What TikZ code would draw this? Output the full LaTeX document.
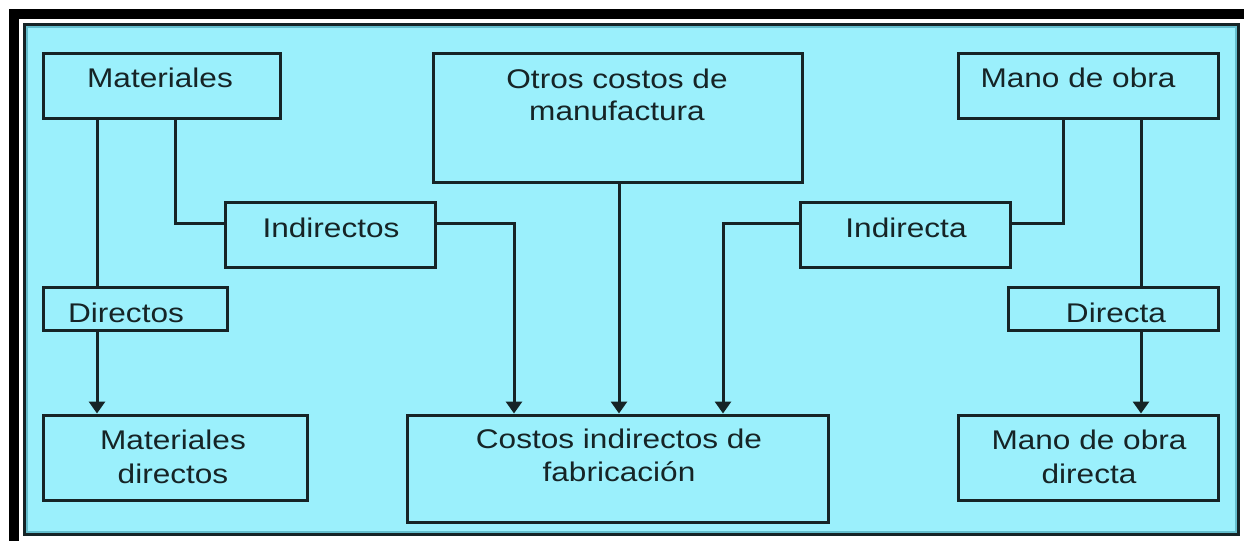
\documentclass[tikz,border=0pt]{standalone}
\usepackage{fontspec}
\setmainfont{Liberation Sans}[FakeStretch=1.17]
\usetikzlibrary{arrows.meta}
\definecolor{bgcyan}{RGB}{155,240,252}
\definecolor{edgecyan}{RGB}{100,190,205}
\definecolor{ink}{RGB}{22,36,38}
\begin{document}
\begin{tikzpicture}[x=1pt,y=-1pt,
  box/.style={draw=ink,line width=3pt,rectangle,inner sep=0pt},
  lbl/.style={text=ink,inner sep=0pt,anchor=base,align=center,font=\fontsize{27}{34}\selectfont},
  conn/.style={draw=ink,line width=3pt},
  arr/.style={conn,-{Triangle[width=16pt,length=12pt]}}]
\useasboundingbox (0,0) rectangle (1244,541);
% frame
\fill[white] (0,0) rectangle (1244,541);
\fill[black] (9,9) rectangle (1244,19);
\fill[black] (9,9) rectangle (19,541);
\draw[ink,line width=3pt,fill=bgcyan] (24.5,24.5) rectangle (1238.5,534.5);
\draw[edgecyan,line width=2pt] (27,27) rectangle (1236,532);
% boxes
\node[box,minimum width=237pt,minimum height=65pt] (mat) at (161.5,85.5) {};
\node[box,minimum width=210pt,minimum height=65pt] (ind1) at (330,234.5) {};
\node[box,minimum width=184pt,minimum height=43pt] (dir1) at (135,308.5) {};
\node[box,minimum width=264pt,minimum height=85pt] (matd) at (175,457.5) {};
\node[box,minimum width=369pt,minimum height=129pt] (otros) at (617.5,117.5) {};
\node[box,minimum width=421pt,minimum height=107pt] (cif) at (617.5,468.5) {};
\node[box,minimum width=210pt,minimum height=65pt] (ind2) at (905,234.5) {};
\node[box,minimum width=260pt,minimum height=65pt] (mano) at (1088,85.5) {};
\node[box,minimum width=210pt,minimum height=43pt] (dir2) at (1113,308.5) {};
\node[box,minimum width=260pt,minimum height=85pt] (manod) at (1088,457.5) {};
% labels (base anchor = baseline of the last line)
\node[lbl] (tmat) at (160,87) {Materiales};
\node[lbl] (tind1) at (331,237) {Indirectos};
\node[lbl] (tdir1) at (126,322) {Directos};
\node[lbl] (tmatd) at (173,483) {Materiales\\directos};
\node[lbl,font=\fontsize{27}{32}\selectfont] (totros) at (617,120) {Otros costos de\\manufactura};
\node[lbl,font=\fontsize{27}{33}\selectfont] (tcif) at (619,481) {Costos indirectos de\\fabricación};
\node[lbl] (tind2) at (906,237) {Indirecta};
\node[lbl] (tmano) at (1078,87) {Mano de obra};
\node[lbl] (tdir2) at (1116,322) {Directa};
\node[lbl] (tmanod) at (1089,483) {Mano de obra\\directa};
% helper coordinates
\coordinate (xa) at (97,0);
\coordinate (xb) at (175,0);
\coordinate (xc) at (514,0);
\coordinate (xd) at (619,0);
\coordinate (xe) at (723,0);
\coordinate (xf) at (1063,0);
\coordinate (xg) at (1141,0);
\coordinate (yl) at (0,223);
% connectors
\draw[conn] (mat.south -| xa) -- (dir1.north -| xa);
\draw[arr] (dir1.south -| xa) -- (matd.north -| xa);
\draw[conn] (mat.south -| xb) |- (ind1.west |- yl);
\draw[arr] (ind1.east |- yl) -| (cif.north -| xc);
\draw[arr] (otros.south -| xd) -- (cif.north -| xd);
\draw[arr] (ind2.west |- yl) -| (cif.north -| xe);
\draw[conn] (mano.south -| xf) |- (ind2.east |- yl);
\draw[conn] (mano.south -| xg) -- (dir2.north -| xg);
\draw[arr] (dir2.south -| xg) -- (manod.north -| xg);
\end{tikzpicture}
\end{document}
